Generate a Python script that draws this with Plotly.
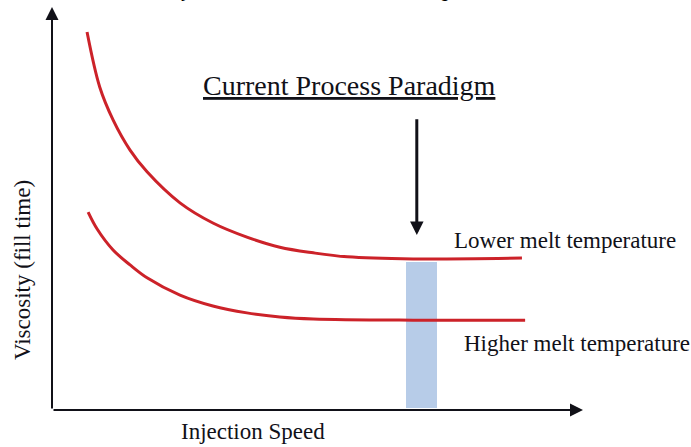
import plotly.graph_objects as go

# ---- data (arbitrary units, axes 0..10) ----
upper_x = [0.66, 0.90, 1.15, 1.47, 1.79, 2.41, 3.03, 3.67, 4.29, 4.92, 5.56, 6.80, 8.85]
upper_y = [9.38, 8.01, 7.20, 6.45, 5.91, 5.14, 4.64, 4.29, 4.04, 3.90, 3.80, 3.75, 3.77]
lower_x = [0.68, 0.85, 1.15, 1.47, 1.79, 2.41, 3.03, 3.67, 4.29, 4.92, 6.80, 8.91]
lower_y = [4.91, 4.49, 3.97, 3.60, 3.28, 2.85, 2.58, 2.41, 2.31, 2.26, 2.23, 2.23]

band_x0, band_x1 = 6.67, 7.25
band_bottom, band_top = 0.05, 3.67

paradigm_arrow_x = 6.87
paradigm_arrow_from, paradigm_arrow_to = 7.25, 4.34

labels = {
    "title": "Viscosity Curve at Different Melt Settings",
    "paradigm": "Current Process Paradigm",
    "lower": "Lower melt temperature",
    "higher": "Higher melt temperature",
    "xlabel": "Injection Speed",
    "ylabel": "Viscosity (fill time)",
}

RED = "#cc2229"
INK = "#111118"
SERIF = "Liberation Serif, Times New Roman, serif"

L, R, T, B = 52, 108, 7, 37
W, H = 691, 447
PW, PH = W - L - R, H - T - B


def px(xp):
    return (xp - L) / PW


def py(yp):
    return 1 - (yp - T) / PH


fig = go.Figure()

# shaded band (current process window)
fig.add_trace(go.Bar(
    x=[(band_x0 + band_x1) / 2], y=[band_top - band_bottom], base=[band_bottom],
    width=[band_x1 - band_x0], marker=dict(color="#b7cce8", line=dict(width=0)),
    hoverinfo="skip", showlegend=False))

fig.add_trace(go.Scatter(x=upper_x, y=upper_y, mode="lines",
                         line=dict(color=RED, width=3, shape="spline", smoothing=1.0),
                         showlegend=False, name=labels["lower"]))
fig.add_trace(go.Scatter(x=lower_x, y=lower_y, mode="lines",
                         line=dict(color=RED, width=3, shape="spline", smoothing=1.0),
                         showlegend=False, name=labels["higher"]))

ann = []
# axes as arrows
ann.append(dict(x=0, y=10, ax=0, ay=0, xref="x", yref="y", axref="x", ayref="y", text="",
                showarrow=True, arrowhead=2, arrowsize=1.3, arrowwidth=2, arrowcolor=INK, standoff=0))
ann.append(dict(x=10, y=0, ax=0, ay=0, xref="x", yref="y", axref="x", ayref="y", text="",
                showarrow=True, arrowhead=2, arrowsize=1.3, arrowwidth=2, arrowcolor=INK, standoff=0))
# paradigm arrow
ann.append(dict(x=paradigm_arrow_x, y=paradigm_arrow_to, ax=paradigm_arrow_x, ay=paradigm_arrow_from,
                xref="x", yref="y", axref="x", ayref="y", text="",
                showarrow=True, arrowhead=2, arrowsize=0.9, arrowwidth=3, arrowcolor=INK, standoff=0))

ann.append(dict(x=px(349), y=py(86), xref="paper", yref="paper", showarrow=False,
                text="<span style='text-decoration:underline'>" + labels["paradigm"] + "</span>",
                font=dict(family=SERIF, size=28, color=INK), xanchor="center", yanchor="middle"))
ann.append(dict(x=px(452), y=py(240), xref="paper", yref="paper", showarrow=False, text=labels["lower"],
                font=dict(family=SERIF, size=23, color=INK), xanchor="left", yanchor="middle"))
ann.append(dict(x=px(462), y=py(343), xref="paper", yref="paper", showarrow=False, text=labels["higher"],
                font=dict(family=SERIF, size=23, color=INK), xanchor="left", yanchor="middle"))
ann.append(dict(x=px(179), y=py(431), xref="paper", yref="paper", showarrow=False, text=labels["xlabel"],
                font=dict(family=SERIF, size=23, color=INK), xanchor="left", yanchor="middle"))
ann.append(dict(x=px(22), y=py(270), xref="paper", yref="paper", showarrow=False, text=labels["ylabel"],
                textangle=-90, font=dict(family=SERIF, size=23, color=INK), xanchor="center", yanchor="middle"))
# title (mostly cut off at top of the image)
ann.append(dict(x=px(116), y=py(1), xref="paper", yref="paper", showarrow=False, text=labels["title"],
                font=dict(family="Liberation Sans, Arial, sans-serif", size=19, color="#000"),
                xanchor="left", yanchor="bottom", borderpad=0, borderwidth=0))

fig.update_layout(
    width=W, height=H,
    margin=dict(l=L, r=R, t=T, b=B),
    paper_bgcolor="white", plot_bgcolor="white",
    xaxis=dict(range=[0, 10], visible=False, fixedrange=True),
    yaxis=dict(range=[0, 10], visible=False, fixedrange=True),
    annotations=ann,
    bargap=0,
)

fig.write_html("out.html", config={"displayModeBar": False},
               post_script="document.body.style.margin='0';document.body.style.overflow='hidden';")
